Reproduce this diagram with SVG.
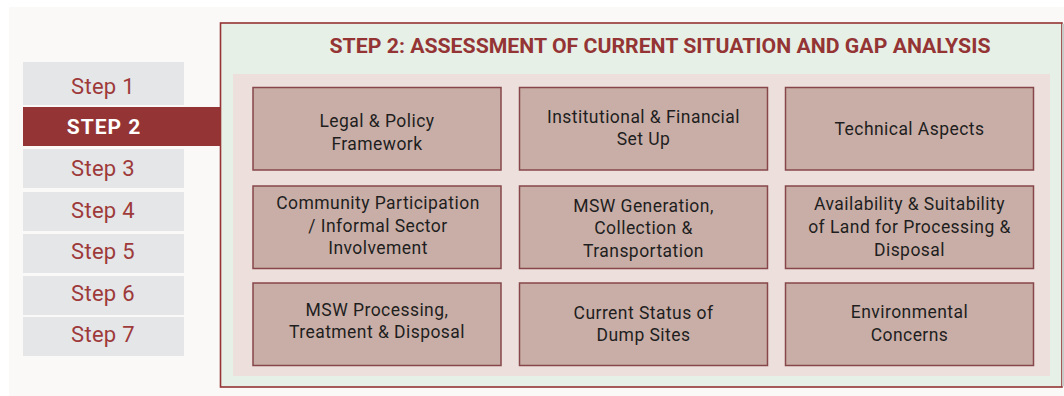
<svg xmlns="http://www.w3.org/2000/svg" width="1064" height="396" viewBox="0 0 1064 396">
<style>
.step{fill:#e5e6e8}
.steptxt{font-family:Roboto,"Liberation Sans",sans-serif;font-size:22px;fill:#9e3a3a;text-anchor:middle;letter-spacing:0.3px}
.cell{fill:#c9aea7;stroke:#87474a;stroke-width:1.5}
.celltxt{font-family:Roboto,"Liberation Sans",sans-serif;font-size:17.5px;fill:#1e1e1e;text-anchor:middle;letter-spacing:0.45px}
</style>
<rect x="0" y="0" width="1064" height="396" fill="#ffffff"/>
<rect x="9" y="7" width="1055" height="389" fill="#faf9f7"/>
<g id="steps">
<g id="step1"><rect class="step" x="23" y="62" width="161" height="43"/><text class="steptxt" x="103" y="94">Step 1</text></g>
<g id="step2"><rect x="23" y="107" width="198" height="39" fill="#943434"/><text x="104" y="134" font-family="Roboto,'Liberation Sans',sans-serif" font-size="21" font-weight="bold" fill="#ffffff" text-anchor="middle" letter-spacing="1">STEP 2</text></g>
<g id="step3"><rect class="step" x="23" y="149" width="161" height="39"/><text class="steptxt" x="103" y="176">Step 3</text></g>
<g id="step4"><rect class="step" x="23" y="192" width="161" height="39"/><text class="steptxt" x="103" y="218">Step 4</text></g>
<g id="step5"><rect class="step" x="23" y="234" width="161" height="39"/><text class="steptxt" x="103" y="259">Step 5</text></g>
<g id="step6"><rect class="step" x="23" y="276" width="161" height="39"/><text class="steptxt" x="103" y="301">Step 6</text></g>
<g id="step7"><rect class="step" x="23" y="317" width="161" height="39"/><text class="steptxt" x="103" y="342">Step 7</text></g>
</g>
<g id="panel">
<rect x="220.5" y="23" width="841.5" height="364" fill="#e6f0e6" stroke="#943434" stroke-width="1.6"/>
<line x1="1063" y1="23.8" x2="1063" y2="386.2" stroke="#c8cac8" stroke-width="2"/>
<text x="660" y="52.5" font-family="Roboto,'Liberation Sans',sans-serif" font-size="19.5" font-weight="bold" fill="#943434" text-anchor="middle" textLength="661" lengthAdjust="spacingAndGlyphs">STEP 2: ASSESSMENT OF CURRENT SITUATION AND GAP ANALYSIS</text>
<rect x="233" y="74" width="817" height="302" fill="#ecdfdc"/>
</g>
<g id="c1"><rect class="cell" x="253" y="87.5" width="248" height="82.5"/><text class="celltxt" x="377" y="127">Legal &amp; Policy</text><text class="celltxt" x="377" y="150">Framework</text></g>
<g id="c2"><rect class="cell" x="519.5" y="87.5" width="248" height="82.5"/><text class="celltxt" x="643.5" y="123">Institutional &amp; Financial</text><text class="celltxt" x="643.5" y="145">Set Up</text></g>
<g id="c3"><rect class="cell" x="785.5" y="87.5" width="248" height="82.5"/><text class="celltxt" x="909.5" y="135">Technical Aspects</text></g>
<g id="c4"><rect class="cell" x="253" y="186" width="248" height="82.5"/><text class="celltxt" x="378" y="209">Community Participation</text><text class="celltxt" x="378" y="232">/ Informal Sector</text><text class="celltxt" x="378" y="254">Involvement</text></g>
<g id="c5"><rect class="cell" x="519.5" y="186" width="248" height="82.5"/><text class="celltxt" x="643.5" y="211.5">MSW Generation,</text><text class="celltxt" x="643.5" y="234">Collection &amp;</text><text class="celltxt" x="643.5" y="256.5">Transportation</text></g>
<g id="c6"><rect class="cell" x="785.5" y="186" width="248" height="82.5"/><text class="celltxt" x="909.5" y="210">Availability &amp; Suitability</text><text class="celltxt" x="909.5" y="233">of Land for Processing &amp;</text><text class="celltxt" x="909.5" y="256">Disposal</text></g>
<g id="c7"><rect class="cell" x="253" y="283" width="248" height="82.5"/><text class="celltxt" x="377" y="315.5">MSW Processing,</text><text class="celltxt" x="377" y="338">Treatment &amp; Disposal</text></g>
<g id="c8"><rect class="cell" x="519.5" y="283" width="248" height="82.5"/><text class="celltxt" x="643.5" y="319">Current Status of</text><text class="celltxt" x="643.5" y="341">Dump Sites</text></g>
<g id="c9"><rect class="cell" x="785.5" y="283" width="248" height="82.5"/><text class="celltxt" x="909.5" y="318">Environmental</text><text class="celltxt" x="909.5" y="340.5">Concerns</text></g>
<g id="connectors"></g>
</svg>
